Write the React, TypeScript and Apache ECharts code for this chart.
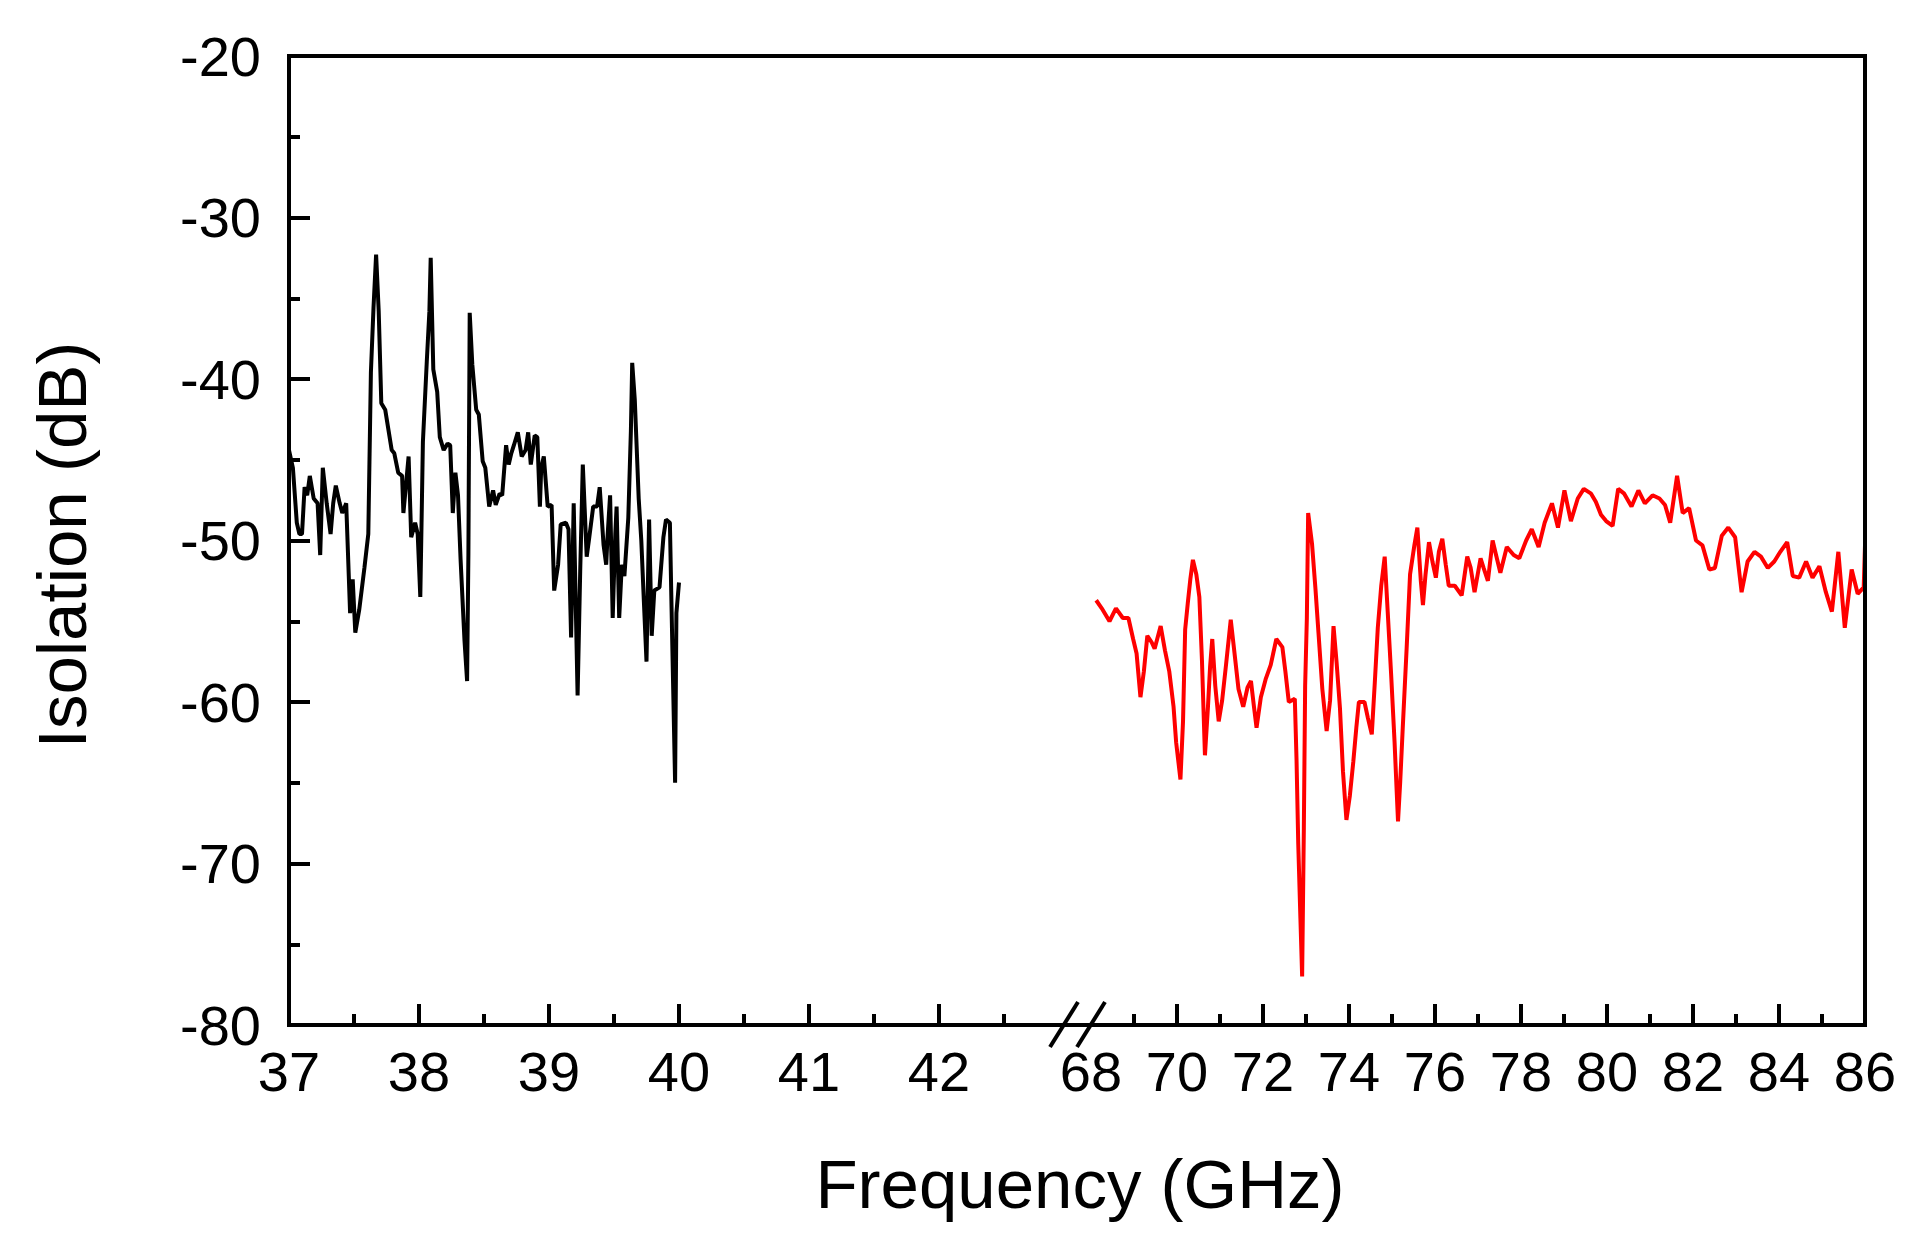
import React, { useEffect, useRef } from "react";
import * as echarts from "echarts";

// Black trace: 37–40 GHz
const blackPoints: [number, number][] = [
  [37.00,-44.4],[37.03,-45.5],[37.06,-48.9],[37.08,-49.6],[37.10,-49.6],[37.12,-46.7],[37.14,-47.2],[37.16,-46.0],
  [37.19,-47.4],[37.22,-47.7],[37.24,-50.9],[37.26,-45.5],[37.29,-47.7],[37.32,-49.6],[37.34,-47.7],[37.36,-46.6],
  [37.39,-47.7],[37.41,-48.3],[37.44,-47.7],[37.47,-54.5],[37.49,-52.4],[37.51,-55.7],[37.54,-54.3],[37.58,-51.7],
  [37.61,-49.6],[37.63,-39.6],[37.65,-35.6],[37.67,-32.3],[37.69,-35.8],[37.71,-41.5],[37.74,-41.9],[37.79,-44.4],
  [37.81,-44.6],[37.84,-45.8],[37.87,-46.0],[37.88,-48.3],[37.92,-44.8],[37.94,-49.8],[37.97,-48.9],[37.99,-49.6],
  [38.01,-53.5],[38.03,-43.9],[38.06,-38.9],[38.08,-35.8],[38.09,-32.5],[38.11,-39.4],[38.14,-40.8],[38.16,-43.6],
  [38.19,-44.4],[38.22,-44.0],[38.24,-44.1],[38.26,-48.3],[38.28,-45.8],[38.30,-47.2],[38.32,-51.2],[38.35,-56.2],
  [38.37,-58.7],[38.38,-50.8],[38.39,-35.9],[38.41,-39.1],[38.44,-41.9],[38.46,-42.2],[38.49,-45.1],[38.51,-45.5],
  [38.54,-47.9],[38.57,-46.9],[38.59,-47.8],[38.62,-47.1],[38.64,-47.2],[38.67,-44.1],[38.69,-45.3],[38.71,-44.6],
  [38.73,-44.1],[38.76,-43.3],[38.79,-44.8],[38.82,-44.4],[38.84,-43.3],[38.86,-45.3],[38.89,-43.5],[38.91,-43.6],
  [38.93,-47.9],[38.94,-45.5],[38.96,-44.8],[38.99,-47.9],[39.02,-47.8],[39.04,-53.1],[39.07,-51.5],[39.09,-49.0],
  [39.13,-48.9],[39.15,-49.3],[39.17,-56.0],[39.19,-47.7],[39.22,-59.6],[39.24,-51.9],[39.26,-45.3],[39.29,-51.0],
  [39.31,-49.8],[39.34,-47.9],[39.37,-47.9],[39.39,-46.7],[39.42,-50.3],[39.44,-51.5],[39.45,-49.8],[39.47,-47.2],
  [39.49,-54.8],[39.51,-49.6],[39.52,-47.9],[39.54,-54.8],[39.56,-51.5],[39.58,-52.2],[39.61,-48.6],[39.63,-43.2],
  [39.64,-39.0],[39.66,-41.3],[39.69,-47.4],[39.71,-50.0],[39.73,-53.8],[39.75,-57.5],[39.77,-48.7],[39.79,-55.9],
  [39.81,-53.1],[39.85,-52.9],[39.88,-49.8],[39.90,-48.7],[39.93,-48.9],[39.94,-53.1],[39.97,-65.0],[39.98,-54.5],
  [40.00,-52.6],
];

// Red trace: 68–86 GHz
const redPoints: [number, number][] = [
  [68.12,-53.7],[68.25,-54.2],[68.43,-55.0],[68.58,-54.2],[68.74,-54.8],[68.87,-54.8],[68.98,-56.1],[69.06,-57.0],
  [69.15,-59.7],[69.23,-58.1],[69.31,-55.9],[69.41,-56.3],[69.48,-56.7],[69.62,-55.3],[69.72,-56.8],[69.82,-58.1],
  [69.92,-60.3],[69.98,-62.5],[70.08,-64.8],[70.14,-61.2],[70.19,-55.5],[70.25,-53.9],[70.31,-52.4],[70.37,-51.2],
  [70.45,-52.1],[70.52,-53.5],[70.58,-57.4],[70.65,-63.3],[70.72,-60.3],[70.77,-57.8],[70.82,-56.1],[70.89,-59.0],
  [70.97,-61.2],[71.05,-59.9],[71.14,-57.7],[71.25,-54.9],[71.33,-56.8],[71.43,-59.2],[71.54,-60.3],[71.64,-59.1],
  [71.72,-58.7],[71.79,-60.3],[71.85,-61.6],[71.95,-59.7],[72.06,-58.6],[72.18,-57.7],[72.31,-56.1],[72.45,-56.6],
  [72.52,-58.1],[72.60,-60.0],[72.74,-59.8],[72.78,-63.6],[72.82,-68.8],[72.87,-73.4],[72.91,-77.0],[72.95,-67.8],
  [72.98,-59.0],[73.02,-54.8],[73.05,-48.3],[73.14,-50.2],[73.22,-53.0],[73.29,-55.7],[73.38,-59.2],[73.48,-61.8],
  [73.56,-59.9],[73.64,-55.3],[73.71,-57.5],[73.79,-60.4],[73.86,-64.3],[73.94,-67.3],[74.02,-65.8],[74.10,-63.7],
  [74.17,-61.6],[74.23,-60.0],[74.36,-60.0],[74.44,-61.0],[74.53,-62.0],[74.60,-58.8],[74.67,-55.4],[74.75,-52.8],
  [74.83,-51.0],[74.90,-54.4],[74.98,-58.3],[75.06,-62.5],[75.11,-65.6],[75.14,-67.4],[75.19,-65.0],[75.25,-61.6],
  [75.34,-56.7],[75.42,-52.1],[75.52,-50.3],[75.59,-49.2],[75.67,-52.5],[75.72,-54.0],[75.78,-52.1],[75.86,-50.1],
  [75.94,-51.3],[76.02,-52.3],[76.09,-50.7],[76.17,-49.9],[76.25,-51.5],[76.32,-52.8],[76.46,-52.8],[76.62,-53.4],
  [76.75,-51.0],[76.83,-51.7],[76.92,-53.2],[77.06,-51.1],[77.13,-51.7],[77.23,-52.5],[77.34,-50.0],[77.42,-50.9],
  [77.52,-52.0],[77.67,-50.4],[77.83,-50.9],[77.96,-51.1],[78.12,-50.0],[78.25,-49.3],[78.41,-50.4],[78.55,-48.9],
  [78.72,-47.7],[78.86,-49.2],[79.01,-46.9],[79.16,-48.8],[79.32,-47.4],[79.46,-46.8],[79.63,-47.1],[79.74,-47.6],
  [79.86,-48.4],[79.98,-48.8],[80.13,-49.1],[80.26,-46.8],[80.40,-47.1],[80.57,-47.9],[80.73,-46.9],[80.88,-47.7],
  [81.06,-47.2],[81.22,-47.4],[81.35,-47.8],[81.47,-48.9],[81.63,-46.0],[81.76,-48.3],[81.91,-48.0],[82.07,-50.0],
  [82.22,-50.3],[82.38,-51.8],[82.51,-51.7],[82.67,-49.7],[82.82,-49.2],[82.98,-49.8],[83.13,-53.2],[83.27,-51.3],
  [83.43,-50.7],[83.58,-51.0],[83.74,-51.7],[83.89,-51.3],[84.03,-50.7],[84.19,-50.1],[84.32,-52.2],[84.47,-52.3],
  [84.63,-51.3],[84.78,-52.3],[84.94,-51.6],[85.09,-53.2],[85.23,-54.4],[85.38,-50.7],[85.53,-55.4],[85.69,-51.8],
  [85.83,-53.3],[85.97,-52.9],[86.00,-50.3],
];

// Axis ticks / labels
const leftMajorTicks = [37, 38, 39, 40, 41, 42];
const leftMinorTicks = [37.5, 38.5, 39.5, 40.5, 41.5, 42.5];
const rightLabels = [68, 70, 72, 74, 76, 78, 80, 82, 84, 86];
const rightMajorTicks = [70, 72, 74, 76, 78, 80, 82, 84, 86];
const rightMinorTicks = [69, 71, 73, 75, 77, 79, 81, 83, 85];
const yMin = -80;
const yMax = -20;
const yInterval = 10;

const FONT = "'Liberation Sans', Arial, Helvetica, sans-serif";

export default function App() {
  const ref = useRef<HTMLDivElement>(null);

  useEffect(() => {
    if (!ref.current) return;
    const chart = echarts.init(ref.current, null, { renderer: "svg" });

    const L = 289, T = 56, R = 1865, B = 1025, SPLIT = 1078;
    const leftPxPerGHz = 130;
    const rightPxPerGHz = 43;
    const leftMax = 37 + (SPLIT - L) / leftPxPerGHz;
    const rightMin = 86 - (R - SPLIT) / rightPxPerGHz;

    const tickStyle = { color: "#000", width: 4 };
    const majorX = (min: number, max: number, gridIndex: number, ticks: number[], labels: number[]) => ({
      type: "value",
      gridIndex,
      min,
      max,
      position: "bottom",
      axisLine: { show: false },
      splitLine: { show: false },
      axisTick: { show: true, inside: true, length: 21, lineStyle: tickStyle, customValues: ticks },
      axisLabel: {
        show: true,
        customValues: labels,
        color: "#000",
        fontSize: 56,
        fontFamily: FONT,
        margin: 18,
        showMinLabel: true,
        showMaxLabel: true,
        formatter: (v: number) => String(Math.round(v)),
      },
    });
    const minorX = (min: number, max: number, gridIndex: number, ticks: number[]) => ({
      type: "value",
      gridIndex,
      min,
      max,
      position: "bottom",
      axisLine: { show: false },
      splitLine: { show: false },
      axisLabel: { show: false },
      axisTick: { show: true, inside: true, length: 11, lineStyle: tickStyle, customValues: ticks },
    });

    chart.setOption({
      animation: false,
      backgroundColor: "#fff",
      grid: [
        { left: L, top: T, width: SPLIT - L, height: B - T, containLabel: false },
        { left: SPLIT, top: T, width: R - SPLIT, height: B - T, containLabel: false },
      ],
      xAxis: [
        majorX(37, leftMax, 0, leftMajorTicks, leftMajorTicks),
        minorX(37, leftMax, 0, leftMinorTicks),
        majorX(rightMin, 86, 1, rightMajorTicks, rightLabels),
        minorX(rightMin, 86, 1, rightMinorTicks),
      ],
      yAxis: [
        {
          type: "value",
          gridIndex: 0,
          min: yMin,
          max: yMax,
          interval: yInterval,
          axisLine: { show: false },
          splitLine: { show: false },
          axisTick: { show: true, inside: true, length: 21, lineStyle: tickStyle },
          minorTick: { show: true, splitNumber: 2, length: 11, lineStyle: tickStyle },
          minorSplitLine: { show: false },
          axisLabel: { color: "#000", fontSize: 56, fontFamily: FONT, margin: 28 },
        },
        {
          type: "value",
          gridIndex: 1,
          min: yMin,
          max: yMax,
          interval: yInterval,
          show: false,
        },
      ],
      series: [
        {
          type: "line",
          xAxisIndex: 0,
          yAxisIndex: 0,
          data: blackPoints,
          showSymbol: false,
          symbol: "none",
          clip: true,
          lineStyle: { color: "#000", width: 4 },
        },
        {
          type: "line",
          xAxisIndex: 2,
          yAxisIndex: 1,
          data: redPoints,
          showSymbol: false,
          symbol: "none",
          clip: true,
          lineStyle: { color: "#ff0000", width: 4 },
        },
      ],
      graphic: [
        {
          type: "rect",
          z: 100,
          shape: { x: L, y: T, width: R - L, height: B - T },
          style: { fill: "none", stroke: "#000", lineWidth: 4 },
        },
        {
          type: "line",
          z: 101,
          shape: { x1: 1050, y1: 1047, x2: 1078, y2: 1002 },
          style: { stroke: "#000", lineWidth: 4 },
        },
        {
          type: "line",
          z: 101,
          shape: { x1: 1077, y1: 1047, x2: 1105, y2: 1002 },
          style: { stroke: "#000", lineWidth: 4 },
        },
        {
          type: "text",
          z: 101,
          x: 1080,
          y: 1184,
          style: {
            text: "Frequency (GHz)",
            fill: "#000",
            font: `69px ${FONT}`,
            align: "center",
            verticalAlign: "middle",
          },
        },
        {
          type: "text",
          z: 101,
          x: 62,
          y: 545,
          rotation: Math.PI / 2,
          style: {
            text: "Isolation (dB)",
            fill: "#000",
            font: `69px ${FONT}`,
            align: "center",
            verticalAlign: "middle",
          },
        },
      ],
    });

    return () => chart.dispose();
  }, []);

  return (
    <div
      ref={ref}
      style={{ position: "absolute", left: 0, top: 0, width: 1922, height: 1249, background: "#fff" }}
    />
  );
}
